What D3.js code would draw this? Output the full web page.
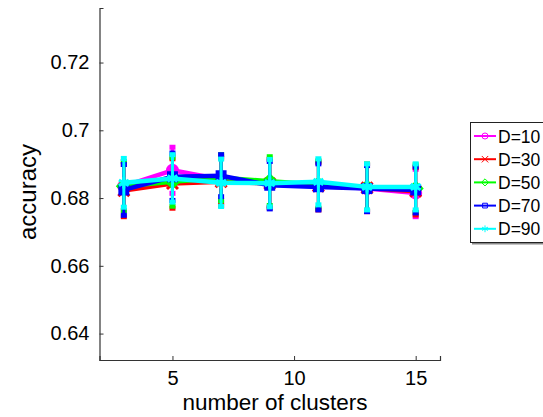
<!DOCTYPE html>
<html>
<head>
<meta charset="utf-8">
<style>
  body { margin: 0; background: #fff; }
  svg text { font-family: "Liberation Sans", Arial, Helvetica, sans-serif; fill: #000; }
</style>
<script src="https://d3js.org/d3.v7.min.js"></script>
</head>
<body>
<div id="chart"></div>
<script>
// number of clusters
var clusters = [3, 5, 7, 9, 11, 13, 15];
var seriesNames = ["D=10", "D=30", "D=50", "D=70", "D=90"];
var seriesColors = ["#ff00ff", "#ff0000", "#00ff00", "#0000ff", "#00ffff"];
var seriesMarkers = ["circle", "cross", "diamond", "square", "star"];

var acc10 = [0.6835, 0.6882, 0.6855, 0.6843, 0.6838, 0.6828, 0.6815];
var acc30 = [0.6822, 0.6843, 0.6848, 0.6843, 0.6835, 0.6830, 0.6820];
var acc50 = [0.6835, 0.6848, 0.6860, 0.6850, 0.6840, 0.6832, 0.6828];
var acc70 = [0.6824, 0.6863, 0.6866, 0.6838, 0.6833, 0.6828, 0.6824];
var acc90 = [0.6845, 0.6858, 0.6845, 0.6844, 0.6848, 0.6833, 0.6833];

var err10 = [0.0072, 0.0068, 0.0068, 0.0070, 0.0070, 0.0068, 0.0070];
var err30 = [0.0077, 0.0073, 0.0070, 0.0072, 0.0070, 0.0070, 0.0070];
var err50 = [0.0073, 0.0072, 0.0068, 0.0072, 0.0070, 0.0068, 0.0070];
var err70 = [0.0075, 0.0070, 0.0062, 0.0070, 0.0068, 0.0068, 0.0068];
var err90 = [0.0072, 0.0070, 0.0070, 0.0070, 0.0068, 0.0068, 0.0068];

var xTicks = [5, 10, 15];
var yTicks = [0.64, 0.66, 0.68, 0.70, 0.72];

var accs = [acc10, acc30, acc50, acc70, acc90];
var errs = [err10, err30, err50, err70, err90];

var W = 543, H = 417;
var plotLeft = 99.5, plotRight = 440, plotTop = 8, plotBottom = 360;

var svg = d3.select("#chart").append("svg")
    .attr("width", W).attr("height", H);

var x = d3.scaleLinear().domain([2, 16]).range([plotLeft, plotRight]);
var y = d3.scaleLinear().domain([0.6322, 0.7361]).range([plotBottom, plotTop]);

// axes (MATLAB style, ticks pointing inward, no box)
var yAxis = svg.append("g")
    .attr("transform", "translate(" + plotLeft + ",0)")
    .call(d3.axisLeft(y).tickValues(yTicks).tickSize(-4).tickPadding(10)
        .tickFormat(function(d) { return String(+d.toFixed(2)); }));
yAxis.selectAll("text").style("font-size", "20px");
var xAxis = svg.append("g")
    .attr("transform", "translate(0," + plotBottom + ")")
    .call(d3.axisBottom(x).tickValues(xTicks).tickSize(-4).tickPadding(11));
xAxis.selectAll("text").style("font-size", "20px");
svg.selectAll(".domain").attr("stroke", "#333").attr("stroke-width", 1.2);
svg.selectAll(".tick line").attr("stroke", "#333");

svg.append("text")
    .attr("x", 275).attr("y", 410)
    .attr("text-anchor", "middle")
    .style("font-size", "22.5px")
    .text("number of clusters");

svg.append("text")
    .attr("transform", "translate(36,192) rotate(-90)")
    .attr("text-anchor", "middle")
    .style("font-size", "24px")
    .text("accuracy");

function markerPath(type, size) {
    var s = size;
    if (type === "circle") return d3.symbol(d3.symbolCircle, s * s * 0.8)();
    if (type === "cross") return d3.symbol(d3.symbolX, s * s * 0.8)();
    if (type === "diamond") return d3.symbol(d3.symbolDiamond2, s * s * 0.9)();
    if (type === "square") return d3.symbol(d3.symbolSquare2, s * s * 0.8)();
    return d3.symbol(d3.symbolAsterisk, s * s * 0.9)();
}

var line = d3.line()
    .x(function(d) { return x(d[0]); })
    .y(function(d) { return y(d[1]); });

accs.forEach(function(acc, si) {
    var col = seriesColors[si];
    var pts = clusters.map(function(c, i) { return [c, acc[i], errs[si][i]]; });
    var g = svg.append("g");

    // error bars
    g.selectAll("line.eb").data(pts).enter().append("line")
        .attr("x1", function(d) { return x(d[0]); })
        .attr("x2", function(d) { return x(d[0]); })
        .attr("y1", function(d) { return y(d[1] - d[2]); })
        .attr("y2", function(d) { return y(d[1] + d[2]); })
        .attr("stroke", col).attr("stroke-width", 3);
    g.selectAll("line.capt").data(pts).enter().append("line")
        .attr("x1", function(d) { return x(d[0]) - 3; })
        .attr("x2", function(d) { return x(d[0]) + 3; })
        .attr("y1", function(d) { return y(d[1] + d[2]); })
        .attr("y2", function(d) { return y(d[1] + d[2]); })
        .attr("stroke", col).attr("stroke-width", 5);
    g.selectAll("line.capb").data(pts).enter().append("line")
        .attr("x1", function(d) { return x(d[0]) - 3; })
        .attr("x2", function(d) { return x(d[0]) + 3; })
        .attr("y1", function(d) { return y(d[1] - d[2]); })
        .attr("y2", function(d) { return y(d[1] - d[2]); })
        .attr("stroke", col).attr("stroke-width", 5);

    g.append("path").datum(pts)
        .attr("d", line)
        .attr("fill", "none")
        .attr("stroke", col)
        .attr("stroke-width", 4.5)
        .attr("stroke-linejoin", "round");

    g.selectAll("path.mk").data(pts).enter().append("path")
        .attr("transform", function(d) { return "translate(" + x(d[0]) + "," + y(d[1]) + ")"; })
        .attr("d", markerPath(seriesMarkers[si], 10))
        .attr("fill", col)
        .attr("stroke", col)
        .attr("stroke-width", 3);
});

// legend
var lg = svg.append("g");
lg.append("rect")
    .attr("x", 472).attr("y", 124.5).attr("width", 80).attr("height", 120)
    .attr("fill", "#888");
lg.append("rect")
    .attr("x", 470.5).attr("y", 122.5).attr("width", 80).attr("height", 120)
    .attr("fill", "#fff").attr("stroke", "#222").attr("stroke-width", 1);

seriesNames.forEach(function(name, i) {
    var ly = 136 + i * 23.2;
    lg.append("line")
        .attr("x1", 474).attr("x2", 496).attr("y1", ly).attr("y2", ly)
        .attr("stroke", seriesColors[i]).attr("stroke-width", 2);
    lg.append("path")
        .attr("transform", "translate(485," + ly + ")")
        .attr("d", markerPath(seriesMarkers[i], 6))
        .attr("fill", "none")
        .attr("stroke", seriesColors[i])
        .attr("stroke-width", 1);
    lg.append("text")
        .attr("x", 498).attr("y", ly + 6.5)
        .style("font-size", "17.5px")
        .text(name);
});
</script>
</body>
</html>
